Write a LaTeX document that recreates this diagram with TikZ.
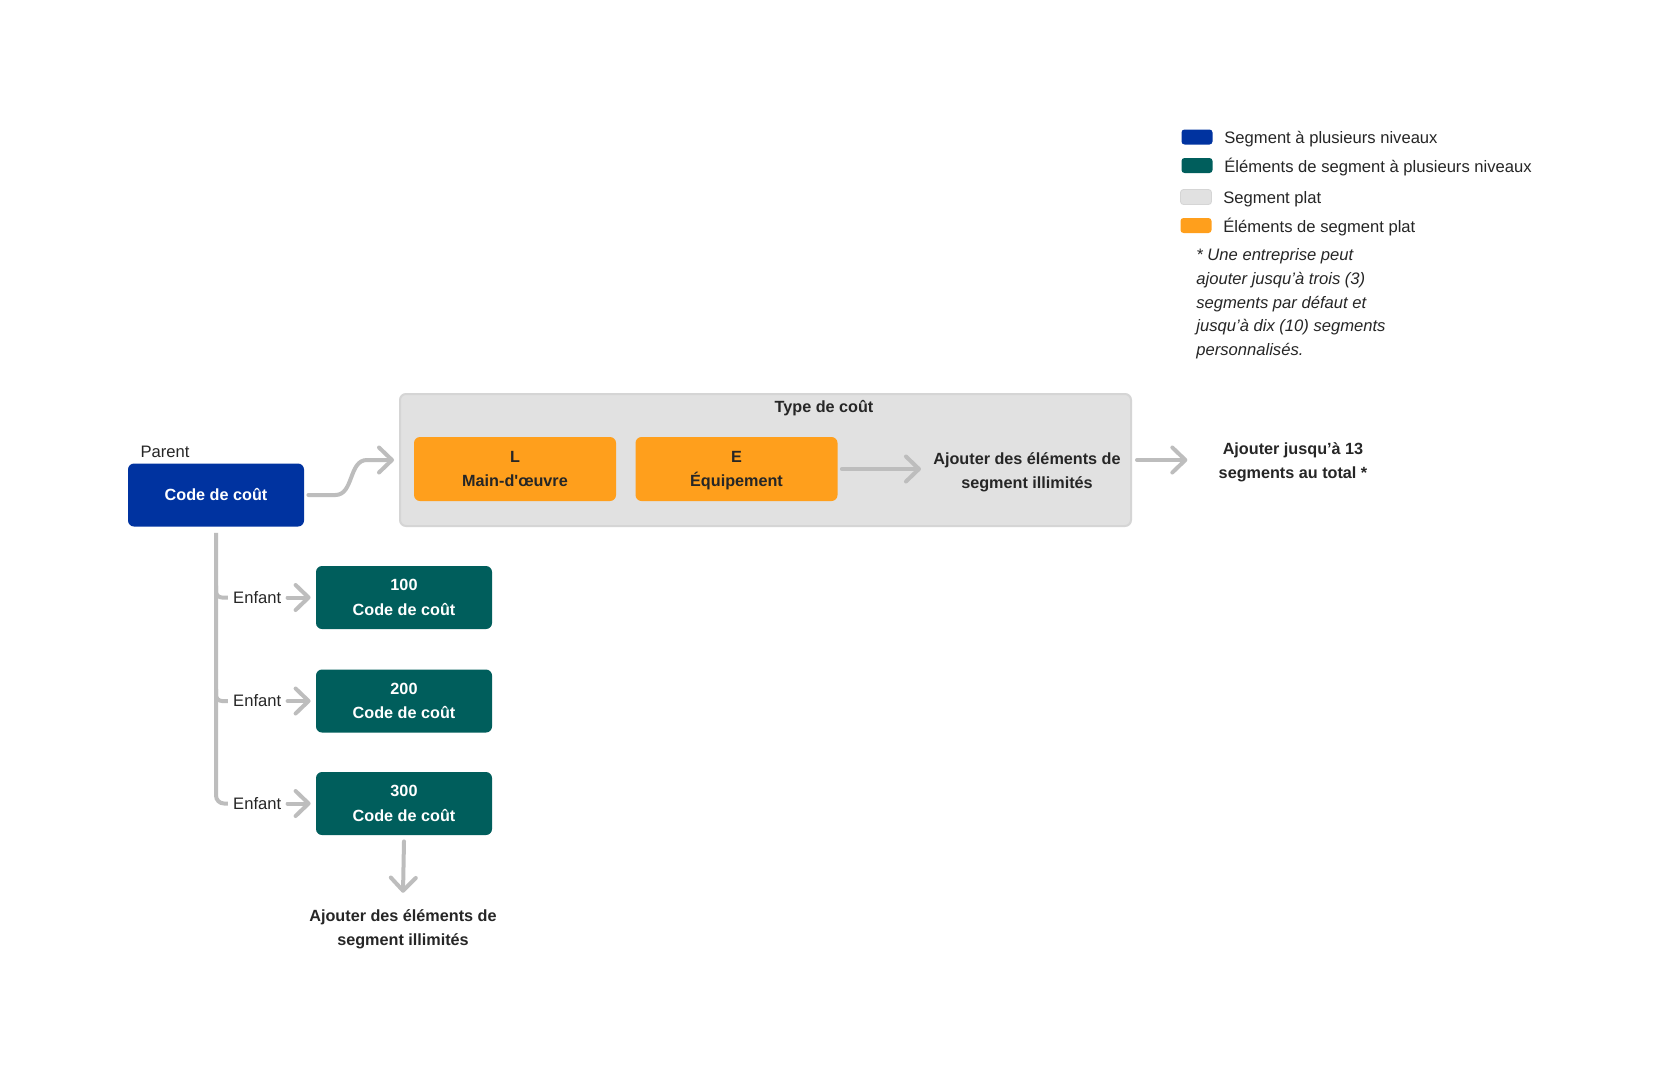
\documentclass[tikz,border=0pt]{standalone}
\usepackage{fontspec}
\setmainfont{Liberation Sans}
\usetikzlibrary{arrows.meta}

\definecolor{bleu}{HTML}{0033A0}
\definecolor{sarcelle}{HTML}{005E5C}
\definecolor{orangeseg}{HTML}{FF9F1C}
\definecolor{gris}{HTML}{E1E1E1}
\definecolor{grisbord}{HTML}{D5D5D5}
\definecolor{fleche}{HTML}{BDBDBD}
\definecolor{texte}{HTML}{262626}

\tikzset{
  gras/.style={font=\fontsize{8.1}{12.2}\selectfont\bfseries},
  etiq/.style={inner sep=0pt},
  boite/.style={rounded corners=3pt, minimum width=88pt, minimum height=31.5pt, align=center, text=white, gras},
  legende/.style={rounded corners=1.5pt, minimum width=15.5pt, minimum height=7.5pt, inner sep=0pt},
  ligne/.style={draw=fleche, line width=2pt},
  fl/.style={ligne, line cap=round, line join=round, -{Straight Barb[round, length=6.5pt, width=12.5pt]}},
}

\begin{document}
\begin{tikzpicture}[x=0.5pt, y=-0.5pt, font=\fontsize{8.3}{12.2}\selectfont, text=texte]
\fill[white] (0,0) rectangle (1661,1087);
\useasboundingbox (0,0) rectangle (1661,1087);

% legende
\node[legende, fill=bleu] (LB) at (1197,137) {};
\node[legende, fill=sarcelle] (LS) at (1197,165.5) {};
\node[legende, fill=gris, draw=grisbord] (LG) at (1196,197) {};
\node[legende, fill=orangeseg] (LO) at (1196,225.5) {};
\node[etiq, anchor=west] (tLB) at (1224,139) {Segment à plusieurs niveaux};
\node[etiq, anchor=west] (tLS) at (1224,167) {Éléments de segment à plusieurs niveaux};
\node[etiq, anchor=west] (tLG) at (1223,199) {Segment plat};
\node[etiq, anchor=west] (tLO) at (1223,227) {Éléments de segment plat};
\node[etiq, anchor=north west, align=left, font=\fontsize{8.3}{11.9}\selectfont\itshape] (note) at (1196,248)
  {* Une entreprise peut\\ajouter jusqu’à trois (3)\\segments par défaut et\\jusqu’à dix (10) segments\\personnalisés.};

% segments
\node[boite, fill=bleu] (P) at (216,495) {Code de coût};
\node[etiq] (Par) at (165,452) {Parent};
\node[rounded corners=3pt, fill=gris, draw=grisbord, line width=1pt, minimum width=365.5pt, minimum height=66pt] (TC) at (765.5,460) {};
\node[etiq, gras] (TCt) at (824,408) {Type de coût};
\node[boite, fill=orangeseg, text=texte, minimum width=101pt, minimum height=32pt] (L) at (515,469) {L\\Main-d\textquotesingle œuvre};
\node[boite, fill=orangeseg, text=texte, minimum width=101pt, minimum height=32pt] (E) at (736.5,469) {E\\\smash{Équipement}};
\node[etiq, gras, align=center] (A1) at (1027,472) {Ajouter des éléments de\\segment illimités};
\node[etiq, gras, align=center] (A2) at (1293,462) {Ajouter jusqu’à 13\\segments au total *};

% enfants
\node[boite, fill=sarcelle] (C1) at (404,597.5) {100\\Code de coût};
\node[boite, fill=sarcelle] (C2) at (404,701) {200\\Code de coût};
\node[boite, fill=sarcelle] (C3) at (404,803.5) {300\\Code de coût};
\node[etiq, anchor=east] (E1) at ([xshift=-17pt]C1.west) {Enfant};
\node[etiq, anchor=east] (E2) at ([xshift=-17pt]C2.west) {Enfant};
\node[etiq, anchor=east] (E3) at ([xshift=-17pt]C3.west) {Enfant};
\node[etiq, gras, align=center] (B) at (403,929) {Ajouter des éléments de\\segment illimités};

% fleches
\draw[fl] ([xshift=2pt]P.east) -- +(27,0) to[out=0,in=180] ([xshift=-16pt]TC.west) -- ([xshift=-2.5pt]TC.west);
\draw[fl] ([xshift=2pt]E.east) -- ([xshift=-6pt]E.east -| A1.west);
\draw[fl] ([xshift=2.5pt]TC.east) -- ([xshift=-15.5pt]TC.east -| A2.west);

\draw[ligne, rounded corners=4pt] ([yshift=-3pt]P.south) |- ([xshift=-2.5pt]E3.west);
\draw[ligne, rounded corners=3pt] ([yshift=6pt]P.south |- E1.west) |- ([xshift=-2.5pt]E1.west);
\draw[ligne, rounded corners=3pt] ([yshift=6pt]P.south |- E2.west) |- ([xshift=-2.5pt]E2.west);

\draw[fl] ([xshift=3pt]E1.east) -- ([xshift=-2.5pt]C1.west);
\draw[fl] ([xshift=3pt]E2.east) -- ([xshift=-2.5pt]C2.west);
\draw[fl] ([xshift=3pt]E3.east) -- ([xshift=-2.5pt]C3.west);
\draw[fl] ([yshift=-3pt]C3.south) -- ([yshift=8pt]B.north);

\end{tikzpicture}
\end{document}
